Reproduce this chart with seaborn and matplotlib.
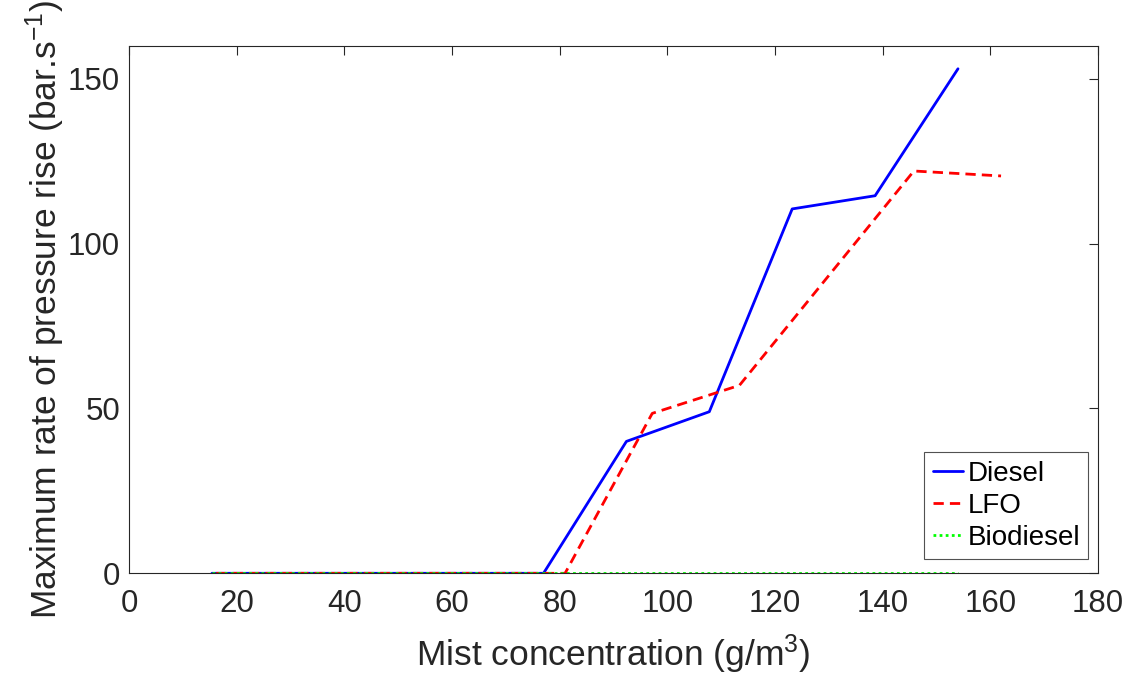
import matplotlib
matplotlib.use('Agg')
import matplotlib.pyplot as plt
import seaborn as sns
import pandas as pd

# values
diesel_x = [15.4, 30.8, 46.2, 61.6, 77.0, 92.4, 107.8, 123.2, 138.6, 154.0]
diesel_y = [0, 0, 0, 0, 0, 40.0, 49.0, 110.5, 114.5, 153.0]
lfo_x = [16.2, 32.4, 48.6, 64.8, 81.0, 97.2, 113.4, 129.6, 145.8, 162.0]
lfo_y = [0, 0, 0, 0, 0, 48.5, 57.0, 89.5, 122.0, 120.5]
bio_x = [15.4, 30.8, 46.2, 61.6, 77.0, 92.4, 107.8, 123.2, 138.6, 154.0]
bio_y = [0, 0, 0, 0, 0, 0, 0, 0, 0, 0]

x_ticks = [0, 20, 40, 60, 80, 100, 120, 140, 160, 180]
y_ticks = [0, 50, 100, 150]

sns.set_theme(style='white')
plt.rcParams['font.family'] = ['Liberation Sans', 'DejaVu Sans']
plt.rcParams['mathtext.fontset'] = 'custom'
plt.rcParams['mathtext.rm'] = 'Liberation Sans'
plt.rcParams['mathtext.it'] = 'Liberation Sans'

dark = '#262626'

fig = plt.figure(figsize=(11.48, 6.74), dpi=100)
ax = fig.add_axes([0.1124, 0.1494, 0.844, 0.7828])

diesel = pd.DataFrame({'x': diesel_x, 'y': diesel_y})
lfo = pd.DataFrame({'x': lfo_x, 'y': lfo_y})
bio = pd.DataFrame({'x': bio_x, 'y': bio_y})

sns.lineplot(x='x', y='y', data=diesel, ax=ax, color='#0000ff', lw=2.0,
             label='Diesel', sort=False)
sns.lineplot(x='x', y='y', data=lfo, ax=ax, color='#ff0000', lw=2.0,
             linestyle=(0, (3.7, 2.2)), label='LFO', sort=False)
sns.lineplot(x='x', y='y', data=bio, ax=ax, color='#00ff00', lw=2.0,
             linestyle=(0, (1, 1.2)), label='Biodiesel', sort=False)

ax.set_xlim(0, 180)
ax.set_ylim(0, 160)
ax.set_xticks(x_ticks)
ax.set_yticks(y_ticks)

ax.tick_params(direction='in', length=6.5, width=0.8, colors=dark,
               labelsize=22.5, top=True, right=True, labelcolor=dark)
ax.tick_params(axis='x', pad=11)
ax.tick_params(axis='y', pad=6.5)
for s in ax.spines.values():
    s.set_color(dark)
    s.set_linewidth(0.8)

ax.set_xlabel('Mist concentration (g/m$^3$)', fontsize=25.5, color=dark)
ax.set_ylabel('Maximum rate of pressure rise (bar.s$^{-1}$)', fontsize=25.5,
              color=dark)
ax.xaxis.set_label_coords(0.5, -0.112)
ax.yaxis.set_label_coords(-0.064, 0.5)

# legend in the lower right corner, square frame
leg = ax.legend(loc='lower right', bbox_to_anchor=(0.99, 0.027),
                borderaxespad=0, fontsize=20, frameon=True, fancybox=False,
                handlelength=1.1, handletextpad=0.15, labelspacing=0.22,
                borderpad=0.3, edgecolor=dark)
leg.get_frame().set_linewidth(0.8)
for t in leg.get_texts():
    t.set_color('black')

fig.savefig('out.png', dpi=100)
